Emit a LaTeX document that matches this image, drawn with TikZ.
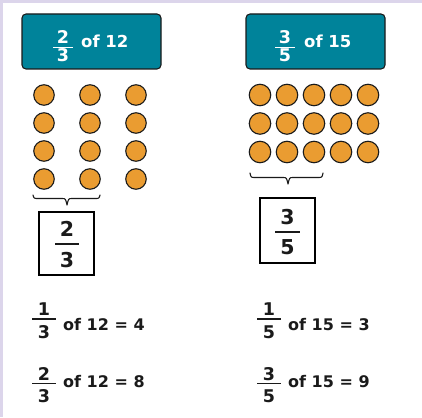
\documentclass[tikz,border=0pt]{standalone}
\usepackage{fontspec}
\setmainfont{DejaVu Sans}
\definecolor{lav}{HTML}{DCD5EB}
\definecolor{tealbox}{HTML}{00839A}
\definecolor{dotor}{HTML}{EA9C31}
\definecolor{ink}{HTML}{1A1A1A}
\newcommand\fsz[1]{\fontsize{#1}{#1}\selectfont\bfseries}
\begin{document}
\begin{tikzpicture}[x=1pt,y=-1pt,
  titlebox/.style={draw=ink, line width=1.1pt, fill=tealbox, rounded corners=4pt, minimum width=139pt, minimum height=55pt, inner sep=0pt},
  ansbox/.style={draw=black, line width=1.8pt, minimum width=55pt, inner sep=0pt},
  ldot/.style={circle, draw=ink, line width=1.1pt, fill=dotor, inner sep=0pt, minimum size=20.5pt},
  rdot/.style={circle, draw=ink, line width=1.1pt, fill=dotor, inner sep=0pt, minimum size=21.5pt},
  brc/.style={draw=ink, line width=1.1pt, line cap=round, line join=round},
  dig/.style={anchor=base, inner sep=0pt},
  txt/.style={anchor=base west, inner sep=0pt},
  fbar/.style={line width=1.4pt},
  fbarw/.style={line width=1.4pt, draw=white}]
\useasboundingbox (0,0) rectangle (422,417);
\fill[lav] (0,0) rectangle (422,3);
\fill[lav] (0,0) rectangle (3,417);

% title boxes
\node[titlebox] (t1) at (91.5,41.5) {};
\node[titlebox] (t2) at (315.5,41.5) {};
\begin{scope}[every node/.style={text=white}]
\node[dig] (t1n) at (63,44) {\fsz{17.5}2};
\node[dig] (t1d) at (63,62) {\fsz{17.5}3};
\draw[fbarw] (53,47.7) -- (73,47.7);
\node[txt] (t1t) at (81,48) {\fsz{16.5}of 12};
\node[dig] (t2n) at (285,44) {\fsz{17.5}3};
\node[dig] (t2d) at (285,62) {\fsz{17.5}5};
\draw[fbarw] (275,47.7) -- (295,47.7);
\node[txt] (t2t) at (304,48) {\fsz{16.5}of 15};
\end{scope}

% left dots 3 columns x 4 rows
\foreach \c/\x in {1/44,2/90,3/136}
  \foreach \r/\y in {1/95,2/123,3/151,4/179}
    \node[ldot] (l\c\r) at (\x,\y) {};
% right dots 5 columns x 3 rows
\foreach \c/\x in {1/260,2/287,3/314,4/341,5/368}
  \foreach \r/\y in {1/95,2/123.5,3/152}
    \node[rdot] (r\c\r) at (\x,\y) {};

% braces
\draw[brc] (33,195) .. controls (34,198.5) .. (38,198.5) -- (62,198.5)
  .. controls (65.5,198.5) .. (67,205) .. controls (68.5,198.5) .. (72,198.5)
  -- (95,198.5) .. controls (99,198.5) .. (100,195);
\draw[brc] (250,173) .. controls (251,177.5) .. (255,177.5) -- (283,177.5)
  .. controls (286.5,177.5) .. (288,184) .. controls (289.5,177.5) .. (293,177.5)
  -- (318,177.5) .. controls (322,177.5) .. (323,173);

% answer boxes
\node[ansbox, minimum height=63pt] (a1) at (66.5,243.5) {};
\node[dig, text=ink] (a1n) at (67,236.5) {\fsz{20.5}2};
\node[dig, text=ink] (a1d) at (67,267.5) {\fsz{20.5}3};
\draw[fbar, ink] (55,244) -- (79,244);
\node[ansbox, minimum height=65pt] (a2) at (287.5,230.5) {};
\node[dig, text=ink] (a2n) at (287.5,224.5) {\fsz{20.5}3};
\node[dig, text=ink] (a2d) at (287.5,254.5) {\fsz{20.5}5};
\draw[fbar, ink] (275,232) -- (300,232);

% equations
\begin{scope}[every node/.style={text=ink}]
\node[dig] (e1n) at (44,315) {\fsz{17.5}1};
\node[dig] (e1d) at (44,338) {\fsz{17.5}3};
\draw[fbar, ink] (32,319) -- (56,319);
\node[txt] (e1t) at (63,330) {\fsz{16}of 12 = 4};
\node[dig] (e2n) at (44,380) {\fsz{17.5}2};
\node[dig] (e2d) at (44,402) {\fsz{17.5}3};
\draw[fbar, ink] (32,383.5) -- (56,383.5);
\node[txt] (e2t) at (63,387) {\fsz{16}of 12 = 8};
\node[dig] (e3n) at (269,315) {\fsz{17.5}1};
\node[dig] (e3d) at (269,338) {\fsz{17.5}5};
\draw[fbar, ink] (257,319) -- (281,319);
\node[txt] (e3t) at (288,330) {\fsz{16}of 15 = 3};
\node[dig] (e4n) at (269,380) {\fsz{17.5}3};
\node[dig] (e4d) at (269,402) {\fsz{17.5}5};
\draw[fbar, ink] (257,383.5) -- (281,383.5);
\node[txt] (e4t) at (288,387) {\fsz{16}of 15 = 9};
\end{scope}
\end{tikzpicture}
\end{document}
